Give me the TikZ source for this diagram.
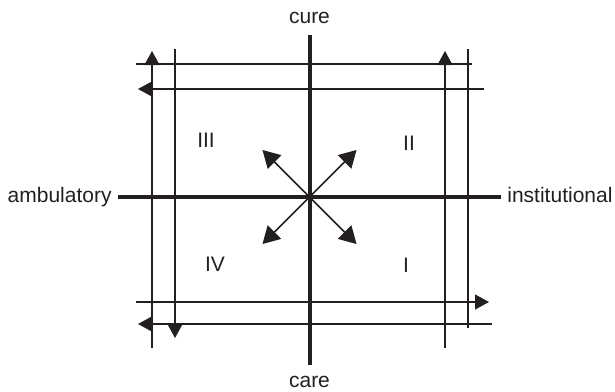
\documentclass[tikz,border=0pt]{standalone}
\usepackage{fontspec}
\setmainfont{Liberation Sans}
\usetikzlibrary{arrows.meta}
\definecolor{ink}{RGB}{35,31,32}
\tikzset{
    lbl/.style={
        font=\fontsize{10.5}{12.6}\selectfont,
        text=ink,
        inner sep=3pt,
        text height=7.9pt,
        text depth=2.6pt
    },
    quadrant/.style={
        font=\fontsize{10.5}{12.6}\selectfont,
        text=ink,
        inner sep=0pt
    },
    axis/.style={
        draw=ink,
        line width=2pt
    },
    frameline/.style={
        draw=ink,
        line width=0.6pt
    },
    framearrow/.style={
        frameline,
        -{Triangle[length=7pt,width=7.5pt]}
    },
    diag/.style={
        draw=ink,
        line width=0.75pt,
        -{Triangle[length=8.5pt,width=9.5pt]}
    }
}

\begin{document}
\begin{tikzpicture}[x=0.5pt,y=-0.5pt]
        \useasboundingbox (0,0) rectangle (615,391);
        \coordinate (O) at (309.5,197);

        % axes and their labels
        \node[lbl, anchor=base east] (amb) at (118,202) {ambulatory};
        \node[lbl, anchor=base west] (inst) at (501,202) {institutional};
        \node[lbl, anchor=base] (cure) at (309.5,23) {cure};
        \node[lbl, anchor=base] (care) at (309.5,387) {care};
        \path[axis] (amb) -- (inst);
        \path[axis] (cure) -- (care);

        % quadrants
        \node[quadrant] (q3) at (206,140) {III};
        \node[quadrant] (q2) at (409,143) {II};
        \node[quadrant] (q4) at (215,264.5) {IV};
        \node[quadrant] (q1) at (406,265) {I};

        % diagonal arrows
        \foreach \a/\n in {45/ne,135/nw,225/sw,315/se}
            \path (O) ++(\a:66.5) coordinate (d\n);
        \foreach \n in {ne,nw,sw,se}
            \path[diag] (O) -- (d\n);

        % frame lines
        \coordinate (h1w) at (136,64);   \coordinate (h1e) at (472,64);
        \coordinate (h2w) at (138,89);   \coordinate (h2e) at (484,89);
        \coordinate (h3w) at (136,302);  \coordinate (h3e) at (489,302);
        \coordinate (h4w) at (138,324);  \coordinate (h4e) at (492,324);
        \coordinate (v1n) at (152,51);   \coordinate (v1s) at (152,348);
        \coordinate (v2n) at (175,49);   \coordinate (v2s) at (175,338);
        \coordinate (v3n) at (445,51);   \coordinate (v3s) at (445,348);
        \coordinate (v4n) at (468,49);   \coordinate (v4s) at (468,328);

        \path[frameline] (h1w) -- (h1e);
        \path[framearrow] (h2e) -- (h2w);
        \path[framearrow] (h3w) -- (h3e);
        \path[framearrow] (h4e) -- (h4w);
        \path[framearrow] (v1s) -- (v1n);
        \path[framearrow] (v2n) -- (v2s);
        \path[framearrow] (v3s) -- (v3n);
        \path[frameline] (v4n) -- (v4s);
    \end{tikzpicture}
\end{document}
